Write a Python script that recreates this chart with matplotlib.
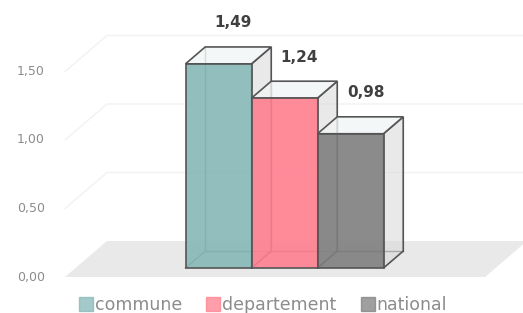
import matplotlib
matplotlib.use("Agg")
import matplotlib.pyplot as plt
from matplotlib.patches import Polygon, Patch

# ---- data ----
series = ["commune", "departement", "national"]
values = [1.49, 1.24, 0.98]
value_labels = ["1,49", "1,24", "0,98"]
colors = ["#86B7B7", "#FF7F8E", "#7F7F7F"]
ticks = [0.0, 0.5, 1.0, 1.5]
tick_labels = ["0,00", "0,50", "1,00", "1,50"]

# ---- projection settings (pixel-like x, value y) ----
W, H = 523, 313
PX_PER_UNIT = 137.0
ZERO_PX = 277.0
DEPTH_DX = 42.0                 # x shift for full floor depth
DEPTH_DY = 36.0 / PX_PER_UNIT   # value shift for full floor depth
FLOOR_X0, FLOOR_X1 = 65.0, 485.0
CAT_CENTER = 274.0
BAR_W = 66.0
D_FRONT, D_BACK = 0.25, 0.72


def proj(x, v, d):
    return (x + DEPTH_DX * d, v + DEPTH_DY * d)


fig = plt.figure(figsize=(W / 100, H / 100), dpi=100)
ax = fig.add_axes([0, 0, 1, 1])
ax.set_xlim(0, W)
ax.set_ylim(-(H - ZERO_PX) / PX_PER_UNIT, ZERO_PX / PX_PER_UNIT)
ax.axis("off")

grid_c = "#F2F2F2"
# wall gridlines
for t in ticks[1:]:
    p0 = proj(FLOOR_X0, t, 0)
    p1 = proj(FLOOR_X0, t, 1)
    p2 = proj(FLOOR_X1, t, 1)
    ax.plot([p0[0], p1[0], p2[0]], [p0[1], p1[1], p2[1]], color=grid_c, lw=1, zorder=1)

# floor
floor = [proj(FLOOR_X0, 0, 0), proj(FLOOR_X1, 0, 0), proj(FLOOR_X1, 0, 1), proj(FLOOR_X0, 0, 1)]
ax.add_patch(Polygon(floor, closed=True, facecolor="#E9E9E9", edgecolor="none", zorder=2))

# tick labels
for t, lab in zip(ticks, tick_labels):
    ax.text(31, t, lab, ha="center", va="center", fontsize=9, color="#8C8C8C", zorder=3)

edge = "#555555"
z = 5
for i, (v, c, lab) in enumerate(zip(values, colors, value_labels)):
    x0 = CAT_CENTER + (i - 1.5) * BAR_W
    x1 = x0 + BAR_W
    # hidden back edges (seen through transparent faces)
    bl_b = proj(x0, 0, D_BACK)
    bl_t = proj(x0, v, D_BACK)
    br_b = proj(x1, 0, D_BACK)
    fl_b = proj(x0, 0, D_FRONT)
    ax.plot([bl_t[0], bl_b[0], br_b[0]], [bl_t[1], bl_b[1], br_b[1]], color=edge, lw=1, zorder=z, alpha=0.8)
    ax.plot([fl_b[0], bl_b[0]], [fl_b[1], bl_b[1]], color=edge, lw=1, zorder=z, alpha=0.8)
    z += 1
    # side face
    side = [proj(x1, 0, D_FRONT), proj(x1, 0, D_BACK), proj(x1, v, D_BACK), proj(x1, v, D_FRONT)]
    ax.add_patch(Polygon(side, closed=True, facecolor="#D8D8D8", alpha=0.55,
                         edgecolor="none", zorder=z))
    ax.add_patch(Polygon(side, closed=True, facecolor="none", edgecolor=edge, lw=1.2, zorder=z + 0.1))
    z += 1
    # top face
    top = [proj(x0, v, D_FRONT), proj(x1, v, D_FRONT), proj(x1, v, D_BACK), proj(x0, v, D_BACK)]
    ax.add_patch(Polygon(top, closed=True, facecolor="#F2F5F5", alpha=0.8,
                         edgecolor="none", zorder=z))
    ax.add_patch(Polygon(top, closed=True, facecolor="none", edgecolor=edge, lw=1.2, zorder=z + 0.1))
    z += 1
    # front face
    fx, fy = proj(x0, 0, D_FRONT)
    ax.bar(fx, v, width=BAR_W, bottom=fy, align="edge", color=c, alpha=0.9,
           edgecolor="none", zorder=z)
    ax.bar(fx, v, width=BAR_W, bottom=fy, align="edge", color="none",
           edgecolor=edge, lw=1.2, zorder=z + 0.1)
    z += 1
    # value label
    lx, ly = proj(x0 + BAR_W / 2 + 15, v + 0.30, D_FRONT)
    ax.text(lx, ly, lab, ha="center", va="center", fontsize=11, fontweight="bold",
            color="#404040", zorder=50)

handles = [Patch(facecolor=c, edgecolor=c, alpha=0.75) for c in colors]
fig.legend(handles, series, loc="center", bbox_to_anchor=(263 / W, 1 - 305 / H),
           ncol=3, frameon=False, fontsize=12.5, handlelength=0.8, handleheight=0.8,
           handletextpad=0.1, columnspacing=1.4, labelcolor="#8C8C8C",
           borderpad=0, borderaxespad=0)

fig.savefig("out.png", dpi=100)
